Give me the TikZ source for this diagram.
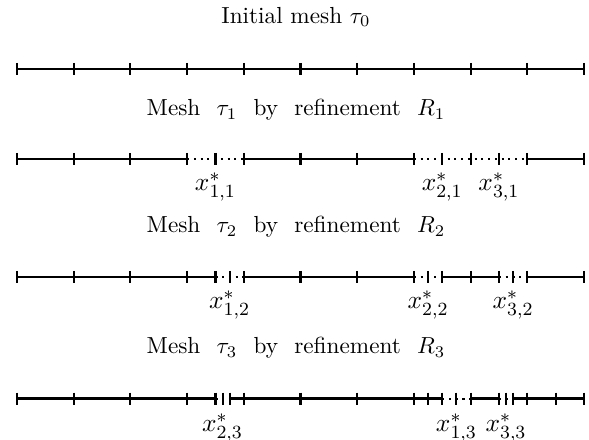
\documentclass[tikz,border=0pt]{standalone}
\usepackage{amsmath}
\usepackage{tikz}
\usetikzlibrary{positioning}

\newcommand{\gap}{\hspace{0.7em}}

\begin{document}
\begin{tikzpicture}[x=24.4pt, y=-0.43pt,
    mesh/.style={line width=1.1pt},
    fine/.style={dotted, line width=0.9pt},
    tick/.style={line width=0.9pt},
    title/.style={font=\normalsize},
    star/.style={font=\fontsize{11pt}{13pt}\selectfont}
]
  \useasboundingbox (-0.3,0) rectangle (10.088,440);
  % initial mesh
  \node[title] (t0) at (4.92,17) {Initial mesh $\tau_0$};
  \draw[mesh] (0,69) -- (10,69);
  \foreach \k in {0,...,10} \draw[tick] (\k,63) -- (\k,75);
  % first refinement
  \node[title] (t1) at (4.92,110) {Mesh\gap$\tau_1$\gap by\gap refinement\gap$R_1$};
  \draw[mesh] (0,159) -- (3,159) (4,159) -- (7,159) (9,159) -- (10,159);
  \draw[fine] (3,159) -- (4,159) (7,159) -- (9,159);
  \foreach \k in {0,...,10,3.5,7.5,8.5} \draw[tick] (\k,153) -- (\k,165);
  \node[star] (x11) at (3.5,187) {$x^*_{1,1}$};
  \node[star] (x21) at (7.5,187) {$x^*_{2,1}$};
  \node[star] (x31) at (8.5,187) {$x^*_{3,1}$};
  % second refinement
  \node[title] (t2) at (4.92,227) {Mesh\gap$\tau_2$\gap by\gap refinement\gap$R_2$};
  \draw[mesh] (0,277) -- (3.5,277) (4,277) -- (7,277) (7.5,277) -- (8.5,277) (9,277) -- (10,277);
  \draw[fine] (3.5,277) -- (4,277) (7,277) -- (7.5,277) (8.5,277) -- (9,277);
  \foreach \k in {0,...,10,3.5,3.75,7.25,7.5,8.5,8.75} \draw[tick] (\k,271) -- (\k,283);
  \node[star] (x12) at (3.75,305) {$x^*_{1,2}$};
  \node[star] (x22) at (7.25,305) {$x^*_{2,2}$};
  \node[star] (x32) at (8.75,305) {$x^*_{3,2}$};
  % third refinement
  \node[title] (t3) at (4.92,348) {Mesh\gap$\tau_3$\gap by\gap refinement\gap$R_3$};
  \draw[mesh] (0,399) -- (3.5,399) (3.75,399) -- (7.5,399) (8,399) -- (8.5,399) (8.75,399) -- (10,399);
  \draw[fine] (3.5,399) -- (3.75,399) (7.5,399) -- (8,399) (8.5,399) -- (8.75,399);
  \foreach \k in {0,...,10,3.5,3.625,3.75,7.25,7.5,7.75,8.5,8.625,8.75,9.5} \draw[tick] (\k,393) -- (\k,405);
  \node[star] (x23) at (3.625,428) {$x^*_{2,3}$};
  \node[star] (x13) at (7.75,428) {$x^*_{1,3}$};
  \node[star] (x33) at (8.625,428) {$x^*_{3,3}$};
\end{tikzpicture}
\end{document}
